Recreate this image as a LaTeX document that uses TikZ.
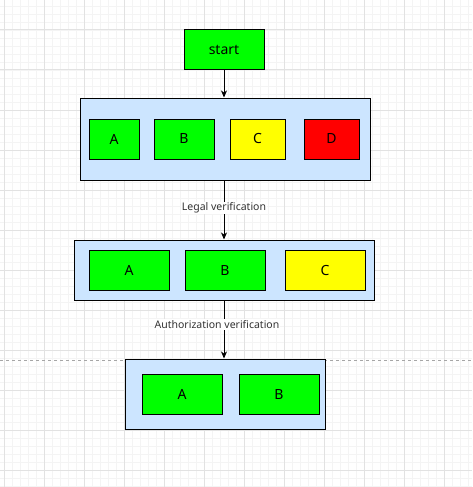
\documentclass[tikz,border=0pt]{standalone}
\usepackage{fontspec}
\setmainfont{Noto Sans}
\usetikzlibrary{arrows.meta}
\definecolor{gminor}{HTML}{F4F4F4}
\definecolor{gmajor}{HTML}{E2E2E2}
\definecolor{contfill}{HTML}{CCE5FF}
\definecolor{boxgreen}{HTML}{00FF00}
\definecolor{boxyellow}{HTML}{FFFF00}
\definecolor{boxred}{HTML}{FF0000}
\definecolor{labeltext}{HTML}{333333}
\tikzset{
  box/.style={draw=black, line width=1pt, inner sep=0pt, font=\fontsize{14}{16}\selectfont},
  gbox/.style={box, fill=boxgreen},
  ybox/.style={box, fill=boxyellow},
  rbox/.style={box, fill=boxred},
  cont/.style={draw=black, line width=1pt, fill=contfill, inner sep=0pt},
  conn/.style={draw=black, line width=1pt, -{Stealth[length=7pt,width=6pt,inset=2pt]}},
  elabel/.style={fill=white, text=labeltext, inner sep=1pt, font=\fontsize{10.5}{12}\selectfont},
}
\begin{document}
\begin{tikzpicture}[x=1pt,y=-1pt]
\useasboundingbox (0,0) rectangle (472,487);
\fill[white] (0,0) rectangle (472,487);
% grid
\foreach \i in {0,...,59} {\draw[gminor, line width=0.8pt] ({4+8*\i},0) -- ({4+8*\i},487);}
\foreach \i in {0,...,60} {\draw[gminor, line width=0.8pt] (0,{6+8*\i}) -- (472,{6+8*\i});}
\foreach \i in {0,...,11} {\draw[gmajor, line width=1pt] ({4+40*\i},0) -- ({4+40*\i},487);}
\foreach \i in {0,...,12} {\draw[gmajor, line width=1pt] (0,{30+40*\i}) -- (472,{30+40*\i});}
% dashed separator
\coordinate (dl) at (0,360);
\coordinate (dr) at (472,360);
\draw[color=black!35, dashed, dash pattern=on 3pt off 3pt, line width=0.8pt] (dl) -- (dr);
% start
\node[gbox, minimum width=80, minimum height=40] (start) at (224,50) {start};
% container 1
\node[cont, minimum width=290, minimum height=82] (c1) at (225,139) {};
\node[gbox, minimum width=50, minimum height=40] (c1a) at (114,139) {A};
\node[gbox, minimum width=60, minimum height=40] (c1b) at (184,139) {B};
\node[ybox, minimum width=55, minimum height=40] (c1c) at (257.5,139) {C};
\node[rbox, minimum width=55, minimum height=40] (c1d) at (331.5,139) {D};
% container 2
\node[cont, minimum width=300, minimum height=60] (c2) at (224,270) {};
\node[gbox, minimum width=80, minimum height=40] (c2a) at (129,270) {A};
\node[gbox, minimum width=80, minimum height=40] (c2b) at (225,270) {B};
\node[ybox, minimum width=80, minimum height=40] (c2c) at (325,270) {C};
% container 3
\node[cont, minimum width=200, minimum height=70] (c3) at (225,394) {};
\node[gbox, minimum width=80, minimum height=40] (c3a) at (182,394) {A};
\node[gbox, minimum width=80, minimum height=40] (c3b) at (279,394) {B};
% connectors
\draw[conn] (start.south) -- (start.south |- c1.north);
\draw[conn] (c1.south -| start.south) -- node[elabel, yshift=2pt] (l1) {Legal verification} (c2.north -| start.south);
\draw[conn] (c2.south -| start.south) -- node[elabel, xshift=-7pt, yshift=5pt] (l2) {Authorization verification} (c3.north -| start.south);
\end{tikzpicture}
\end{document}
